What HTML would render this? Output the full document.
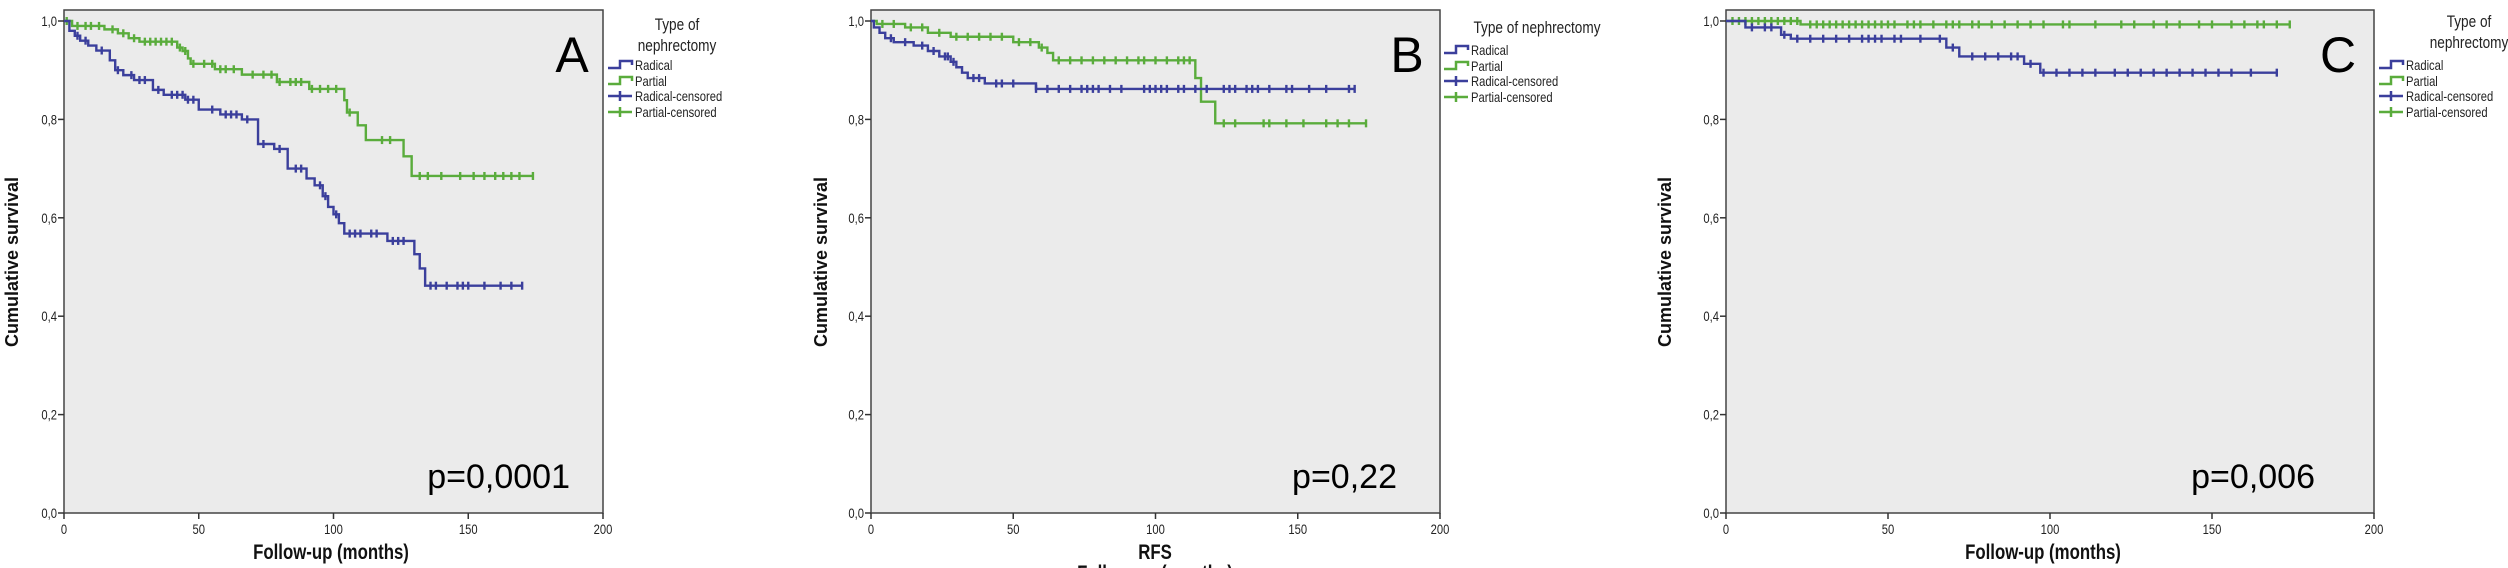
<!DOCTYPE html>
<html><head><meta charset="utf-8"><style>
html,body{margin:0;padding:0;background:#fff;}
svg{display:block;}
text{font-family:"Liberation Sans Narrow","Liberation Sans",sans-serif;}
.tk{font-size:14px;fill:#222;}
.lg{font-size:14px;fill:#222;}
.lt{font-size:17px;fill:#222;}
.yt{font-family:"Liberation Sans",sans-serif;font-weight:bold;font-size:18px;fill:#111;}
.xt{font-weight:bold;font-size:21px;fill:#111;}
.big{font-family:"Liberation Sans",sans-serif;font-size:50px;fill:#000;}
.pv{font-family:"Liberation Sans",sans-serif;font-size:34px;fill:#000;}
</style></head><body>
<svg id="chart" width="2508" height="568" viewBox="0 0 2508 568" xmlns="http://www.w3.org/2000/svg"></svg>
<script>
const xTicks=[0,50,100,150,200];
const yTicks=[0,0.2,0.4,0.6,0.8,1.0];
const yTickLabels=["0,0","0,2","0,4","0,6","0,8","1,0"];
const xTickLabels=["0","50","100","150","200"];
// Panel A
const aRadT=[2,4,6,9,12,17,19,22,26,33,37,45,50,58,66,72,78,83,90,93,96,98,100,102,104,120,130,132,134];
const aRadS=[.98,.97,.96,.95,.94,.92,.90,.89,.88,.86,.85,.84,.82,.81,.80,.75,.74,.70,.68,.666,.644,.622,.607,.589,.568,.553,.526,.497,.462];
const aRadEnd=170;
const aRadC=[5,8,14,20,25,28,30,35,40,42,44,46,48,55,60,62,64,68,74,80,86,88,95,97,101,106,108,110,114,116,122,124,126,136,138,142,146,148,150,156,162,166,170];
const aParT=[3,15,20,24,28,42,44,46,47,56,66,79,91,104,105,109,112,126,129];
const aParS=[.99,.983,.975,.965,.958,.946,.939,.924,.913,.902,.891,.876,.862,.839,.814,.788,.758,.725,.685];
const aParEnd=174;
const aParC=[1,5,8,10,13,18,22,26,30,32,34,36,38,40,43,45,48,52,55,58,60,63,70,74,77,80,84,86,88,92,95,98,101,106,118,121,132,135,140,147,152,156,160,163,166,169,174];
// Panel B
const bRadT=[1,3,5,8,15,20,24,28,30,32,34,40,58];
const bRadS=[.987,.976,.965,.957,.95,.939,.928,.917,.906,.895,.884,.873,.862];
const bRadEnd=170;
const bRadC=[7,12,18,22,26,27,29,36,38,44,46,50,58,62,66,70,74,76,78,80,84,88,96,98,100,102,104,108,110,114,118,124,126,128,132,134,136,140,146,148,154,160,168,170];
const bParT=[2,12,20,28,50,59,62,64,114,116,121];
const bParS=[.994,.987,.976,.968,.957,.946,.935,.92,.884,.836,.792];
const bParEnd=174;
const bParC=[4,8,14,18,24,30,34,38,42,46,52,56,60,66,70,74,78,82,86,90,94,96,100,104,108,110,112,124,128,138,140,146,152,160,164,168,174];
// Panel C
const cRadT=[6,17,20,68,72,92,97];
const cRadS=[.987,.972,.964,.946,.928,.913,.895];
const cRadEnd=170;
const cRadC=[8,12,14,18,22,26,30,34,38,42,44,46,48,52,54,60,66,70,76,80,84,88,90,94,98,102,106,110,114,120,124,128,132,136,140,144,148,152,156,162,170];
const cParT=[23];
const cParS=[.993];
const cParEnd=174;
const cParC=[2,4,6,8,10,12,14,16,18,20,22,26,28,30,32,34,36,38,40,42,44,46,48,50,52,56,58,60,64,68,70,72,76,78,82,86,90,94,98,104,106,114,122,126,132,136,140,146,150,156,160,164,166,170,174];

const svg=document.getElementById('chart');
const NS='http://www.w3.org/2000/svg';
function mk(tag,attrs,parent){const e=document.createElementNS(NS,tag);for(const k in attrs)e.setAttribute(k,attrs[k]);(parent||svg).appendChild(e);return e;}
function txt(s,attrs,cls,parent){const e=mk('text',attrs,parent);e.setAttribute('class',cls);e.textContent=s;
  if(cls==='lg'||cls==='lt'||cls==='tk'||cls==='xt'){const w=e.getComputedTextLength();if(w>0){e.setAttribute('textLength',(w*0.8).toFixed(1));e.setAttribute('lengthAdjust','spacingAndGlyphs');}}
  return e;}
const BLUE='#3b3f9c',GREEN='#5aac3c';

function panel(cfg){
  const g=mk('g',{});
  
  
  const X=t=>cfg.x0+(cfg.x1-cfg.x0)*t/200;
  const Y=v=>513-v*492;
  const bg=mk('rect',{x:cfg.x0,y:10,width:cfg.x1-cfg.x0,height:503,fill:'#ebebeb',stroke:'#444','stroke-width':1.5},g);
  
  
  xTicks.forEach((t,i)=>{
    mk('line',{x1:X(t),x2:X(t),y1:513,y2:519,stroke:'#333','stroke-width':1.5},g);
    const l=txt(xTickLabels[i],{x:X(t),y:534,'text-anchor':'middle'},'tk',g);
    
    
  });
  yTicks.forEach((v,i)=>{
    mk('line',{x1:cfg.x0-6,x2:cfg.x0,y1:Y(v),y2:Y(v),stroke:'#333','stroke-width':1.5},g);
    const l=txt(yTickLabels[i],{x:cfg.x0-7,y:Y(v)+5,'text-anchor':'end'},'tk',g);
    
    
  });
  function series(T,S,end,C,col,name){
    let d='M'+X(0)+','+Y(1);
    T.forEach((t,i)=>{d+=' H'+X(t)+' V'+Y(S[i]);});
    d+=' H'+X(end);
    const p=mk('path',{d:d,fill:'none',stroke:col,'stroke-width':2.4},g);
    
    
    const sv=t=>{let v=1;T.forEach((tt,i)=>{if(tt<=t)v=S[i];});return v;};
    C.forEach(t=>{
      const c=mk('line',{x1:X(t),x2:X(t),y1:Y(sv(t))-4,y2:Y(sv(t))+4,stroke:col,'stroke-width':2.4},g);
      
      
    });
  }
  series(cfg.pT,cfg.pS,cfg.pE,cfg.pC,GREEN,'partial');
  series(cfg.rT,cfg.rS,cfg.rE,cfg.rC,BLUE,'radical');
  const yt=txt('Cumulative survival',{x:0,y:0,'text-anchor':'middle',transform:'translate('+cfg.ytx+',262) rotate(-90)'},'yt',g);
  
  
  cfg.xlabels.forEach(xl=>{
    const e=txt(xl[0],{x:xl[1],y:xl[2],'text-anchor':'middle'},'xt',g);
    
    
  });
  const L=txt(cfg.letter,{x:cfg.lx,y:72,'text-anchor':'middle'},'big',g);
  
  
  const P=txt(cfg.p,{x:cfg.px,y:488,'text-anchor':'end'},'pv',g);
  
  
  const lg=mk('g',{},g);
  
  
  cfg.ltitle.forEach(tl=>{txt(tl[0],{x:tl[1],y:tl[2],'text-anchor':'middle'},'lt',lg);});
  const names=['Radical','Partial','Radical-censored','Partial-censored'];
  const cols=[BLUE,GREEN,BLUE,GREEN];
  names.forEach((n,i)=>{
    const yy=cfg.ly[i];const ix=cfg.lix;
    const e=mk('g',{},lg);
    
    
    if(i<2){mk('path',{d:'M'+ix+','+(yy+3)+' H'+(ix+12)+' V'+(yy-4)+' H'+(ix+24)+' V'+yy,fill:'none',stroke:cols[i],'stroke-width':2.5},e);}
    else{mk('line',{x1:ix,x2:ix+24,y1:yy,y2:yy,stroke:cols[i],'stroke-width':2.5},e);mk('line',{x1:ix+12,x2:ix+12,y1:yy-5,y2:yy+5,stroke:cols[i],'stroke-width':2.5},e);}
    txt(n,{x:ix+27,y:yy+5},'lg',e);
  });
}

panel({id:'a',x0:64,x1:603,rT:aRadT,rS:aRadS,rE:aRadEnd,rC:aRadC,pT:aParT,pS:aParS,pE:aParEnd,pC:aParC,
  ytx:18,xlabels:[['Follow-up (months)',331,559]],letter:'A',lx:572,p:'p=0,0001',px:570,
  ltitle:[['Type of',677,30],['nephrectomy',677,51]],ly:[65,81,96,112],lix:608});
panel({id:'b',x0:871,x1:1440,rT:bRadT,rS:bRadS,rE:bRadEnd,rC:bRadC,pT:bParT,pS:bParS,pE:bParEnd,pC:bParC,
  ytx:827,xlabels:[['RFS',1155,559],['Follow-up (months)',1155,580]],letter:'B',lx:1407,p:'p=0,22',px:1397,
  ltitle:[['Type of nephrectomy',1537,33]],ly:[50,66,81,97],lix:1444});
panel({id:'c',x0:1726,x1:2374,rT:cRadT,rS:cRadS,rE:cRadEnd,rC:cRadC,pT:cParT,pS:cParS,pE:cParEnd,pC:cParC,
  ytx:1671,xlabels:[['Follow-up (months)',2043,559]],letter:'C',lx:2338,p:'p=0,006',px:2315,
  ltitle:[['Type of',2469,27],['nephrectomy',2469,48]],ly:[65,81,96,112],lix:2379});
</script>
</body></html>
